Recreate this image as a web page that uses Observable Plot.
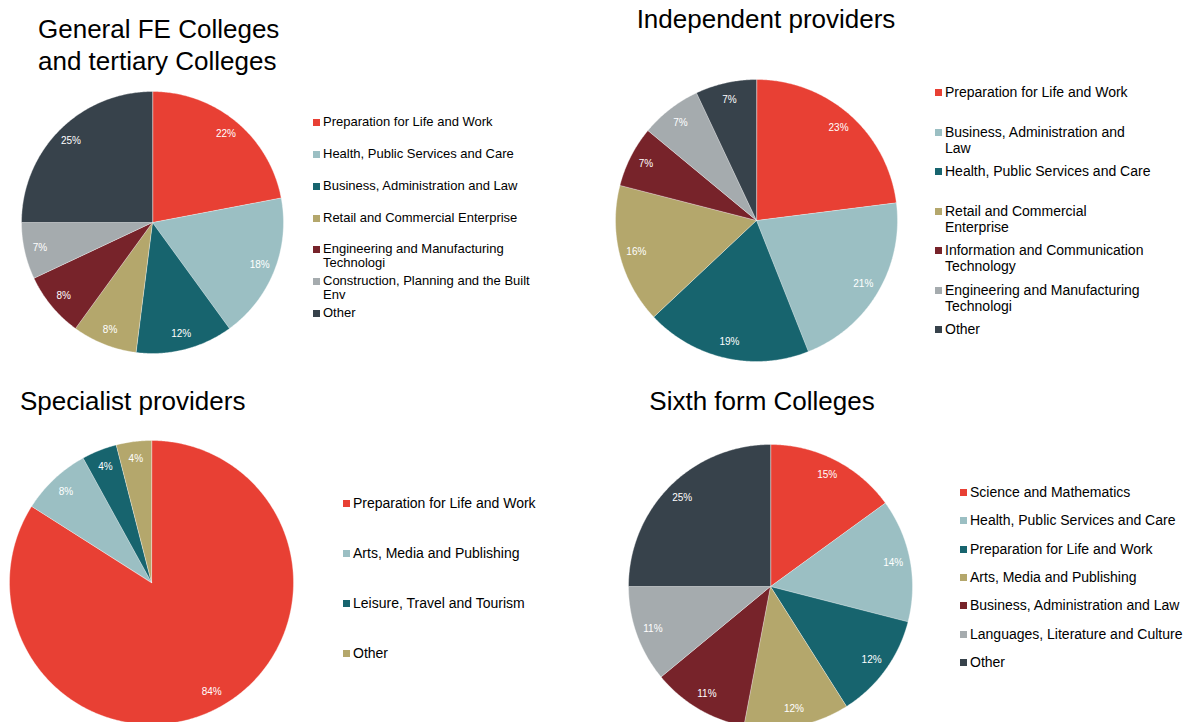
<!DOCTYPE html>
<html><head><meta charset="utf-8">
<script src="https://cdn.jsdelivr.net/npm/d3@7"></script>
<script src="https://cdn.jsdelivr.net/npm/@observablehq/plot@0.6"></script>
<style>
html,body{margin:0;padding:0;background:#fff;width:1194px;height:722px;overflow:hidden;font-family:"Liberation Sans",Arial,sans-serif;}
#root{position:relative;width:1194px;height:722px;overflow:hidden;}
.title{position:absolute;font-size:26px;line-height:31.5px;color:#000;white-space:pre;}
.pie{position:absolute;}
.item{position:absolute;padding-left:10px;white-space:pre;color:#000;}
.sw{position:absolute;left:0;width:7px;height:7px;}
</style></head><body><div id="root"></div>
<script>
// ---- data ----
const sliceColors = ["#E84034","#9BBFC3","#17646E","#B4A76C","#77232A","#A5ABAE","#37424B"];

const feTitle = "General FE Colleges\nand tertiary Colleges";
const feCategories = ["Preparation for Life and Work","Health, Public Services and Care","Business, Administration and Law","Retail and Commercial Enterprise","Engineering and Manufacturing\nTechnologi","Construction, Planning and the Built\nEnv","Other"];
const feValues = [22,18,12,8,8,7,25];

const indTitle = "Independent providers";
const indCategories = ["Preparation for Life and Work","Business, Administration and\nLaw","Health, Public Services and Care","Retail and Commercial\nEnterprise","Information and Communication\nTechnology","Engineering and Manufacturing\nTechnologi","Other"];
const indValues = [23,21,19,16,7,7,7];

const specTitle = "Specialist providers";
const specCategories = ["Preparation for Life and Work","Arts, Media and Publishing","Leisure, Travel and Tourism","Other"];
const specValues = [84,8,4,4];

const sixTitle = "Sixth form Colleges";
const sixCategories = ["Science and Mathematics","Health, Public Services and Care","Preparation for Life and Work","Arts, Media and Publishing","Business, Administration and Law","Languages, Literature and Culture","Other"];
const sixValues = [15,14,12,12,11,11,25];

// ---- layout ----
const layouts = [
  {title: feTitle, cats: feCategories, vals: feValues, titleX: 38, titleY: 14, titleAlign: "left",
   cx: 152, cy: 221.5, r: 131, legX: 313, legY: [122,154,186,218,249,281,313], legFont: 13, legLH: 14},
  {title: indTitle, cats: indCategories, vals: indValues, titleX: 766, titleY: 3.5, titleAlign: "center",
   cx: 756, cy: 219.5, r: 141, legX: 935, legY: [92,132,171,211,250,290,329], legFont: 14, legLH: 16},
  {title: specTitle, cats: specCategories, vals: specValues, titleX: 20, titleY: 385.5, titleAlign: "left",
   cx: 151, cy: 582, r: 142, legX: 343, legY: [503,553,603,653], legFont: 14, legLH: 16},
  {title: sixTitle, cats: sixCategories, vals: sixValues, titleX: 762, titleY: 385.5, titleAlign: "center",
   cx: 770, cy: 586, r: 142, legX: 960, legY: [492,520,549,577,605,634,662], legFont: 14, legLH: 16}
];

const root = document.getElementById("root");

function drawPie(L) {
  const r = L.r, m = 2;
  const arcs = d3.pie().sort(null).value(d => d)(L.vals);
  const pts = [];
  arcs.forEach((a, i) => {
    pts.push({key: i, x: 0, y: 0, color: sliceColors[i]});
    const n = Math.max(2, Math.ceil((a.endAngle - a.startAngle) / 0.01));
    for (let k = 0; k <= n; k++) {
      const t = a.startAngle + (a.endAngle - a.startAngle) * k / n;
      pts.push({key: i, x: Math.sin(t), y: Math.cos(t), color: sliceColors[i]});
    }
  });
  const labs = arcs.map((a, i) => {
    const t = (a.startAngle + a.endAngle) / 2;
    return {x: 0.88 * Math.sin(t), y: 0.88 * Math.cos(t), text: L.vals[i] + "%"};
  });
  const chart = Plot.plot({
    width: 2 * r + 2 * m, height: 2 * r + 2 * m, margin: m,
    x: {domain: [-1, 1], axis: null},
    y: {domain: [-1, 1], axis: null},
    color: {type: "identity"},
    style: {background: "transparent", fontFamily: "Liberation Sans, Arial, sans-serif", overflow: "visible"},
    marks: [
      Plot.line(pts, {x: "x", y: "y", z: "key", fill: "color", stroke: "#ffffff", strokeWidth: 0.6, strokeOpacity: 0.6, curve: "linear-closed"}),
      Plot.text(labs, {x: "x", y: "y", text: "text", fill: "#ffffff", fontSize: 10})
    ]
  });
  const div = document.createElement("div");
  div.className = "pie";
  div.style.left = (L.cx - r - m) + "px";
  div.style.top = (L.cy - r - m) + "px";
  div.style.width = (2 * r + 2 * m) + "px";
  div.appendChild(chart);
  root.appendChild(div);

  const t = document.createElement("div");
  t.className = "title";
  t.textContent = L.title;
  t.style.top = L.titleY + "px";
  if (L.titleAlign === "center") { t.style.left = L.titleX + "px"; t.style.transform = "translateX(-50%)"; t.style.textAlign = "center"; }
  else t.style.left = L.titleX + "px";
  root.appendChild(t);

  L.cats.forEach((c, i) => {
    const it = document.createElement("div");
    it.className = "item";
    it.style.left = L.legX + "px";
    it.style.top = (L.legY[i] - L.legLH / 2) + "px";
    it.style.fontSize = L.legFont + "px";
    it.style.lineHeight = L.legLH + "px";
    it.textContent = c;
    const sw = document.createElement("span");
    sw.className = "sw";
    sw.style.background = sliceColors[i];
    sw.style.top = ((L.legLH - 7) / 2) + "px";
    it.appendChild(sw);
    root.appendChild(it);
  });
}

layouts.forEach(drawPie);
</script>
</body></html>
